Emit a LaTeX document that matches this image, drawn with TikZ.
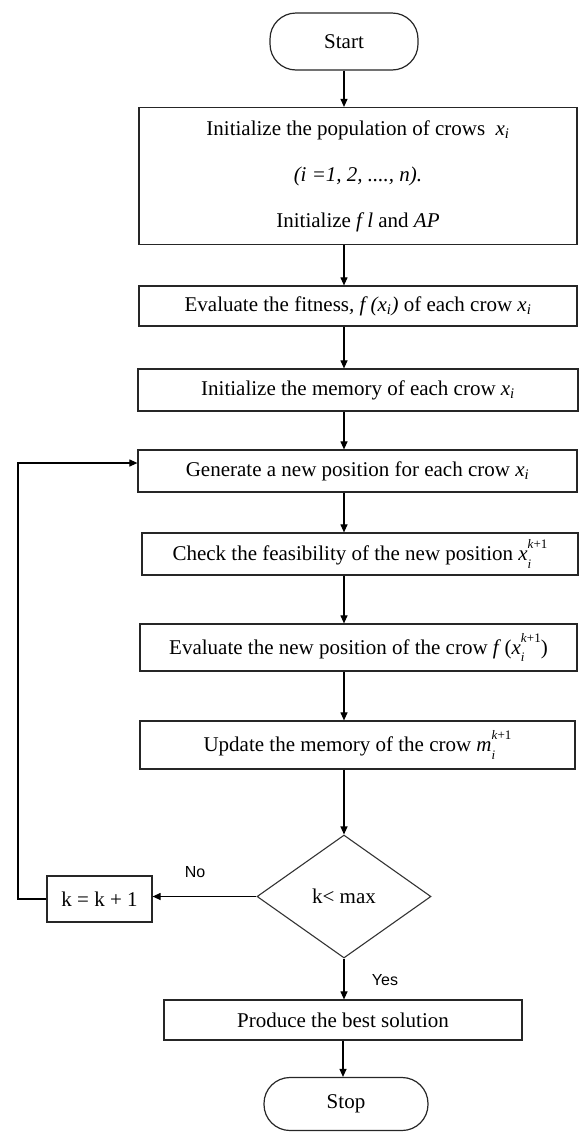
\documentclass[tikz,border=0pt]{standalone}
\usepackage{fontspec}
\setmainfont{Liberation Serif}
\newfontfamily\sansf{Liberation Sans}
\usetikzlibrary{arrows.meta,shapes.geometric}
\newcommand\xsubi{\textit{x}\textsubscript{\textit{i}}}
\newcommand\smallit[1]{{\fontsize{13}{13}\selectfont\textit{#1}}}
\newcommand\subsupik{\rlap{\raisebox{-0.36em}{\smallit{i}}}\raisebox{0.55em}{\smallit{k}{\fontsize{13}{13}\selectfont+1}}}
\newcommand\xsubsup{\textit{x}\subsupik}
\newcommand\msubsup{\textit{m}\subsupik}
\begin{document}
\begin{tikzpicture}[x=1pt,y=-1pt,
  every node/.style={inner sep=0pt},
  box/.style={draw=black!85, line width=1.2pt, rectangle, align=center,
    font=\fontsize{21}{25}\selectfont},
  term/.style={box, rounded corners=26pt},
  dec/.style={draw=black!80, line width=1.1pt, diamond, font=\fontsize{21}{25}\selectfont},
  lab/.style={font=\sansf\fontsize{16}{18}\selectfont},
  arr/.style={draw=black, line width=1.1pt, -{Triangle[length=8pt,width=7pt]}}]
\useasboundingbox (0,0) rectangle (579,1133);
\coordinate (axis) at (344,0);
\node[term, minimum width=148pt, minimum height=57pt] (start) at (344,41.5) {Start};
\node[box, minimum width=438pt, minimum height=137pt,
  font=\fontsize{21}{46}\selectfont] (b1) at (358,176)
  {Initialize the population of crows\ \ \xsubi\\
   \textit{(i =1, 2, ...., n).}\\
   Initialize \textit{f l} and \textit{AP}};
\node[box, minimum width=438pt, minimum height=40pt] (b2) at (358,306)
  {Evaluate the fitness\textit{, f (x\textsubscript{i})} of each crow \xsubi};
\node[box, minimum width=440pt, minimum height=42pt] (b3) at (358,390)
  {Initialize the memory of each crow \xsubi};
\node[box, minimum width=439pt, minimum height=42pt] (b4) at (357.5,471)
  {Generate a new position for each crow \xsubi};
\node[box, minimum width=436pt, minimum height=42pt] (b5) at (360,554)
  {Check the feasibility of the new position \xsubsup};
\node[box, minimum width=437pt, minimum height=47pt] (b6) at (358.5,647.5)
  {Evaluate the new position of the crow \textit{f}\,(\xsubsup)};
\node[box, minimum width=435pt, minimum height=48pt] (b7) at (357.5,745)
  {Update the memory of the crow \msubsup};
\node[dec, minimum width=174pt, minimum height=123pt] (dia) at (344,896.5) {k< max};
\node[box, minimum width=105pt, minimum height=46pt] (kb) at (99.5,899) {k = k + 1};
\node[box, minimum width=358pt, minimum height=40pt] (b8) at (343,1020)
  {Produce the best solution};
\node[term, minimum width=164pt, minimum height=53pt] (stop) at (346,1104) {Stop};
\node[lab] (no) at (195,872) {No};
\node[lab] (yes) at (385,980) {Yes};
\coordinate (lp) at (18,463);
\draw[arr] (start.south) -- (start.south |- b1.north);
\draw[arr] (b1.south -| axis) -- (b2.north -| axis);
\draw[arr] (b2.south -| axis) -- (b3.north -| axis);
\draw[arr] (b3.south -| axis) -- (b4.north -| axis);
\draw[arr] (b4.south -| axis) -- (b5.north -| axis);
\draw[arr] (b5.south -| axis) -- (b6.north -| axis);
\draw[arr] (b6.south -| axis) -- (b7.north -| axis);
\draw[arr] (b7.south -| axis) -- (dia.north);
\draw[arr] (dia.west) -- (dia.west -| kb.east);
\draw[arr] (kb.west) -| (lp) -- (lp -| b4.west);
\draw[arr] (dia.south) -- (dia.south |- b8.north);
\draw[arr] (b8.south) -- (b8.south |- stop.north);
\end{tikzpicture}
\end{document}
